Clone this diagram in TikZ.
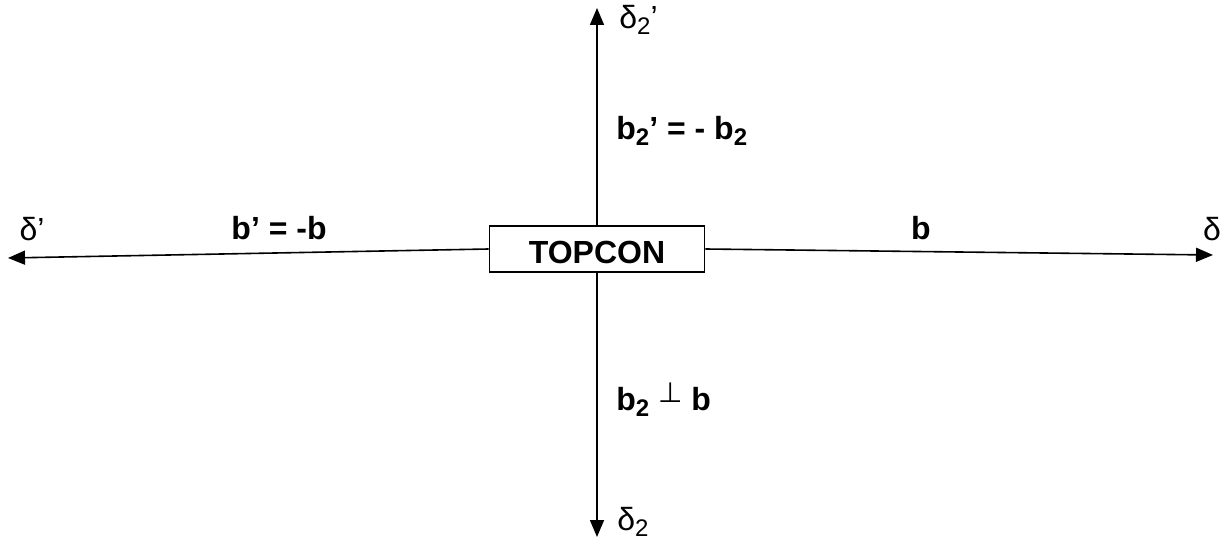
\documentclass[tikz,border=0pt]{standalone}
\usepackage{fontspec}
\setmainfont{Liberation Sans}
\newfontfamily\symfont{DejaVu Sans}
\usetikzlibrary{arrows.meta,positioning}
\newcommand{\low}[1]{\raisebox{-0.4ex}{\fontsize{12}{12}\selectfont #1}}
\tikzset{
  dev/.style={draw, thick, minimum width=107.5pt, minimum height=23pt, inner sep=0pt, text height=14.5pt, text depth=0pt, font=\fontsize{16}{19}\selectfont\bfseries},
  axis/.style={-{Triangle[length=8.5pt,width=7pt]}, thick},
  lab/.style={font=\fontsize{16}{19}\selectfont\bfseries, inner sep=0pt},
  dir/.style={font=\fontsize{16}{19}\selectfont, inner sep=0pt},
}
\begin{document}
\begin{tikzpicture}[x=0.5pt, y=-0.5pt]
  \useasboundingbox (0,0) rectangle (1221,545);
  \node[dev] (top) at (597,249) {TOPCON};
  \coordinate (E) at (1213,255);
  \coordinate (W) at (8,258);
  \coordinate (N) at (597,8);
  \coordinate (S) at (597,537);
  \draw[axis] (top.east) -- (E);
  \draw[axis] (top.west) -- (W);
  \draw[axis] (top.north) -- (N);
  \draw[axis] (top.south) -- (S);
  % direction labels
  \node[dir] (d) at (1212,229) {δ};
  \node[dir] (dp) at (32,229) {δ’};
  \node[dir, anchor=west] (d2p) at (619,20) {δ\low{2}’};
  \node[dir, anchor=west] (d2) at (617,522) {δ\low{2}};
  % baselines
  \node[lab] (b) at (921,228) {b};
  \node[lab] (bp) at (279,228) {b’ = -b};
  \node[lab, anchor=west] (b2p) at (616,131) {b\low{2}’ = - b\low{2}};
  \node[lab, anchor=west] (b2) at (616,400) {b\low{2} \raisebox{0.45ex}{\symfont\mdseries\fontsize{14}{14}\selectfont ⊥} b};
\end{tikzpicture}
\end{document}
